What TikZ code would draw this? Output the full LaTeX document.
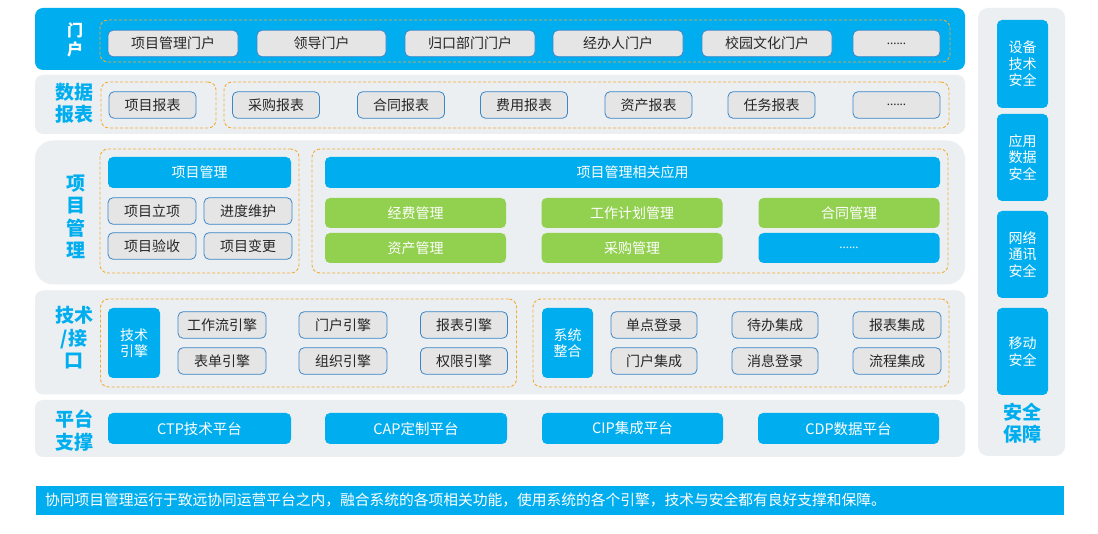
\documentclass[tikz,border=0pt]{standalone}
\usepackage{fontspec}
\setmainfont{Noto Sans CJK SC}
\newfontfamily\dotfont{Noto Sans}
\usetikzlibrary{positioning}
\definecolor{skyblue}{RGB}{0,174,239}
\definecolor{layergray}{RGB}{235,239,242}
\definecolor{cellgray}{RGB}{229,229,229}
\definecolor{cellline}{RGB}{58,134,200}
\definecolor{leafgreen}{RGB}{146,208,80}
\definecolor{dashorange}{RGB}{245,170,50}

\begin{document}
\begin{tikzpicture}[
	x=1pt,y=-1pt,
	layer/.style={
		fill=layergray,
		rounded corners=8pt,
		inner sep=0pt
	},
	group/.style={
		draw=dashorange,
		line width=0.9pt,
		dash pattern=on 3pt off 2pt,
		rounded corners=8pt,
		inner sep=0pt
	},
	cell/.style={
		draw=cellline,
		line width=0.8pt,
		fill=cellgray,
		rounded corners=5pt,
		inner sep=0pt,
		minimum height=26.5pt,
		text=black!85,
		font=\fontsize{14}{16}\selectfont
	},
	bluecell/.style={
		fill=skyblue,
		rounded corners=5pt,
		inner sep=0pt,
		text=white,
		align=center,
		font=\fontsize{14}{16.5}\selectfont
	},
	leaf/.style={
		fill=leafgreen,
		rounded corners=5pt,
		inner sep=0pt,
		minimum width=181pt,
		minimum height=30pt,
		text=white,
		font=\fontsize{14}{16}\selectfont
	},
	tag/.style={
		text=skyblue,
		align=center,
		inner sep=0pt,
		font=\bfseries\fontsize{19}{22.5}\selectfont
	}
	]
	
	\useasboundingbox (0,0) rectangle (1098,534);
	\fill[white] (0,0) rectangle (1098,534);
	
	% Layers
	\node[layer,fill=skyblue,minimum width=930pt,minimum height=62pt] (portal) at (500,39) {};
	\node[layer,minimum width=930pt,minimum height=59pt] (report) at (500,104.5) {};
	\node[layer,rounded corners=18pt,minimum width=930pt,minimum height=144pt] (project) at (500,212.5) {};
	\node[layer,minimum width=930pt,minimum height=104pt] (tech) at (500,342.5) {};
	\node[layer,minimum width=930pt,minimum height=57pt] (base) at (500,428.5) {};
	\node[layer,rounded corners=10pt,minimum width=87pt,minimum height=448pt] (safe) at (1021.5,232) {};
	
	% Layer tags
	\node[tag,text=white,font=\bfseries\fontsize{16}{19}\selectfont] (portaltag) at (75,39.5) {门\\户};
	\node[tag] (reporttag) at (74,103.5) {数据\\报表};
	\node[tag] (projecttag) at (76,217) {项\\目\\管\\理};
	\node[tag] (techtag) at (74,338) {技术\\/接\\口};
	\node[tag] (basetag) at (74,430.5) {平台\\支撑};
	\node[tag] (safetag) at (1022,423) {安全\\保障};
	
	% Portal
	\node[group,minimum width=850pt,minimum height=42pt] (portalgrp) at (525,41) {};
	\node[cell,minimum width=130pt] (p1) at (173,43.5) {项目管理门户};
	\node[cell,minimum width=129pt] (p2) at (321.5,43.5) {领导门户};
	\node[cell,minimum width=130pt] (p3) at (470,43.5) {归口部门门户};
	\node[cell,minimum width=130pt] (p4) at (618,43.5) {经办人门户};
	\node[cell,minimum width=130pt] (p5) at (767,43.5) {校园文化门户};
	\node[cell,minimum width=87pt,font=\dotfont\fontsize{12}{14}\selectfont] (p6) at (896.5,43.5) {......};
	
	% Reports
	\node[group,minimum width=115pt,minimum height=46pt] (reportgrpa) at (158.5,105) {};
	\node[group,minimum width=725pt,minimum height=46pt] (reportgrpb) at (586.5,105) {};
	\node[cell,minimum width=87pt] (r1) at (152.5,105) {项目报表};
	\node[cell,minimum width=87pt] (r2) at (276,105) {采购报表};
	\node[cell,minimum width=87pt] (r3) at (401,105) {合同报表};
	\node[cell,minimum width=87pt] (r4) at (524,105) {费用报表};
	\node[cell,minimum width=87pt] (r5) at (648.5,105) {资产报表};
	\node[cell,minimum width=87pt] (r6) at (771.5,105) {任务报表};
	\node[cell,minimum width=87pt,font=\dotfont\fontsize{12}{14}\selectfont] (r7) at (896.5,105) {......};
	
	% Project management
	\node[group,minimum width=199pt,minimum height=124pt] (projgrpa) at (199.5,211) {};
	\node[bluecell,minimum width=183pt,minimum height=31pt] (pm) at (199.5,172.5) {项目管理};
	\node[cell,minimum width=88pt] (pm1) at (152,211) {项目立项};
	\node[cell,minimum width=88pt] (pm2) at (248,211) {进度维护};
	\node[cell,minimum width=88pt] (pm3) at (152,246) {项目验收};
	\node[cell,minimum width=88pt] (pm4) at (248,246) {项目变更};
	
	\node[group,minimum width=636pt,minimum height=124pt] (projgrpb) at (630,211) {};
	\node[bluecell,minimum width=615pt,minimum height=31pt] (app) at (632.5,172.5) {项目管理相关应用};
	\node[leaf] (a1) at (415.5,213) {经费管理};
	\node[leaf] (a2) at (632,213) {工作计划管理};
	\node[leaf] (a3) at (849,213) {合同管理};
	\node[leaf] (a4) at (415.5,248) {资产管理};
	\node[leaf] (a5) at (632,248) {采购管理};
	\node[leaf,fill=skyblue,font=\dotfont\fontsize{12}{14}\selectfont] (a6) at (849,248) {......};
	
	% Engines and integration
	\node[group,minimum width=416pt,minimum height=88pt] (techgrpa) at (308.5,343) {};
	\node[bluecell,minimum width=52pt,minimum height=70pt] (engine) at (134,343) {技术\\引擎};
	\node[cell,minimum width=88pt] (e1) at (222,325) {工作流引擎};
	\node[cell,minimum width=88pt] (e2) at (343,325) {门户引擎};
	\node[cell,minimum width=87pt] (e3) at (464,325) {报表引擎};
	\node[cell,minimum width=88pt] (e4) at (222,361) {表单引擎};
	\node[cell,minimum width=88pt] (e5) at (343,361) {组织引擎};
	\node[cell,minimum width=87pt] (e6) at (464,361) {权限引擎};
	
	\node[group,minimum width=416pt,minimum height=88pt] (techgrpb) at (741,343) {};
	\node[bluecell,minimum width=51pt,minimum height=70pt] (integ) at (567.5,343) {系统\\整合};
	\node[cell,minimum width=86pt] (i1) at (654,325) {单点登录};
	\node[cell,minimum width=86pt] (i2) at (775,325) {待办集成};
	\node[cell,minimum width=88pt] (i3) at (897,325) {报表集成};
	\node[cell,minimum width=86pt] (i4) at (654,361) {门户集成};
	\node[cell,minimum width=86pt] (i5) at (775,361) {消息登录};
	\node[cell,minimum width=88pt] (i6) at (897,361) {流程集成};
	
	% Platforms
	\node[bluecell,minimum width=183pt,minimum height=31pt,font=\fontsize{14.5}{16}\selectfont] (ctp) at (199.5,428.5) {CTP技术平台};
	\node[bluecell,minimum width=182pt,minimum height=31pt,font=\fontsize{14.5}{16}\selectfont] (cap) at (416,428.5) {CAP定制平台};
	\node[bluecell,minimum width=181pt,minimum height=31pt,font=\fontsize{14.5}{16}\selectfont] (cip) at (632.5,428.5) {CIP集成平台};
	\node[bluecell,minimum width=181pt,minimum height=31pt,font=\fontsize{14.5}{16}\selectfont] (cdp) at (848.5,428.5) {CDP数据平台};
	
	% Security
	\node[bluecell,minimum width=51pt,minimum height=88pt] (s1) at (1022.5,64) {设备\\技术\\安全};
	\node[bluecell,minimum width=51pt,minimum height=87pt] (s2) at (1022.5,157.5) {应用\\数据\\安全};
	\node[bluecell,minimum width=51pt,minimum height=87pt] (s3) at (1022.5,254.5) {网络\\通讯\\安全};
	\node[bluecell,minimum width=51pt,minimum height=87pt] (s4) at (1022.5,351.5) {移动\\安全};
	
	% Summary
	\node[fill=skyblue,minimum width=1028pt,minimum height=29pt,inner sep=0pt] (summary) at (550,500.5) {};
	\node[text=white,anchor=west,inner sep=0pt,font=\fontsize{14.75}{16}\selectfont] (summarytext) at (45,500.5) {协同项目管理运行于致远协同运营平台之内，融合系统的各项相关功能，使用系统的各个引擎，技术与安全都有良好支撑和保障。};
	
\end{tikzpicture}
\end{document}
